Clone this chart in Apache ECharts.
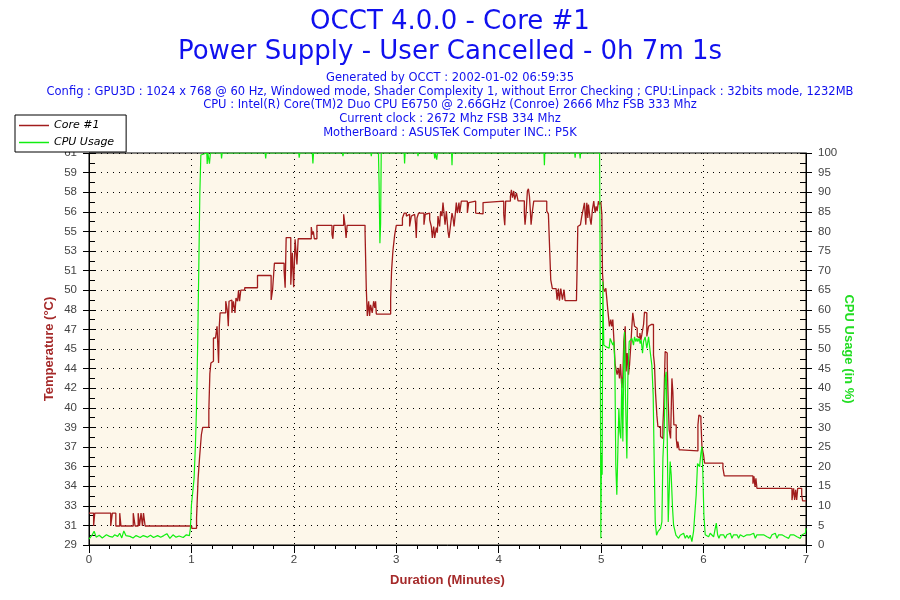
<!DOCTYPE html>
<html>
<head>
<meta charset="utf-8">
<script src="https://cdn.jsdelivr.net/npm/echarts@6/dist/echarts.min.js"></script>
<style>html,body{margin:0;padding:0;background:#fff;}#c{width:900px;height:600px;}</style>
</head>
<body>
<div id="c"></div>
<script>
var titleLines = ['OCCT 4.0.0 - Core #1', 'Power Supply - User Cancelled - 0h 7m 1s'];
var infoLines = [
  'Generated by OCCT : 2002-01-02 06:59:35',
  'Config : GPU3D : 1024 x 768 @ 60 Hz, Windowed mode, Shader Complexity 1, without Error Checking ; CPU:Linpack : 32bits mode, 1232MB',
  'CPU : Intel(R) Core(TM)2 Duo CPU E6750 @ 2.66GHz (Conroe) 2666 Mhz FSB 333 Mhz',
  'Current clock : 2672 Mhz FSB 334 Mhz',
  'MotherBoard : ASUSTeK Computer INC.: P5K'
];
var seriesNames = ['Core #1', 'CPU Usage'];
var xTickLabels = ['0','1','2','3','4','5','6','7'];
var tempTickLabels = ['29','31','33','34','36','37','39','40','42','44','45','47','48','50','51','53','55','56','58','59','61'];
var cpuTickLabels = ['0','5','10','15','20','25','30','35','40','45','50','55','60','65','70','75','80','85','90','95','100'];

var tempTime = [0,0.045,0.056,0.212,0.228,0.262,0.30,0.312,0.432,0.45,0.48,0.493,0.508,0.522,0.532,0.548,
1.003,1.05,1.065,1.08,1.097,1.11,1.17,1.18,1.19,1.205,1.215,1.235,1.25,1.265,1.272,1.28,1.335,1.352,1.36,1.367,1.385,1.395,1.41,1.425,1.435,1.45,1.46,1.47,1.482,1.52,1.645,1.778,1.792,1.81,1.905,1.915,1.925,1.97,1.985,1.998,2.012,2.03,2.042,
2.17,2.18,2.19,2.2,2.225,2.372,2.381,2.39,2.486,2.5,2.51,2.52,2.695,2.707,2.717,2.73,2.739,2.749,2.765,2.779,2.79,2.798,2.805,2.945,2.954,2.967,2.984,3.0,
3.06,3.078,3.098,3.114,3.13,3.147,3.163,3.179,3.189,3.195,3.202,3.218,3.27,3.283,3.293,3.326,3.342,3.352,3.365,3.375,3.391,3.401,3.407,3.423,3.433,3.446,3.456,3.466,3.476,3.489,3.505,3.515,3.528,3.544,3.554,3.564,3.577,3.586,3.596,3.612,3.619,3.635,3.694,3.707,3.717,3.775,3.782,3.847,3.857,
4.049,4.059,4.068,4.114,4.124,4.134,4.147,4.156,4.173,4.189,4.25,4.257,4.267,4.28,4.29,4.3,4.309,4.316,4.329,4.342,4.469,4.485,4.498,4.508,4.524,4.56,4.57,4.583,4.593,4.606,4.622,4.638,4.648,4.759,4.765,4.772,4.785,4.798,4.811,4.827,4.837,4.85,4.86,4.87,4.876,4.893,4.902,4.915,4.928,4.941,4.951,4.961,4.974,4.984,4.997,
5.007,5.013,5.023,5.033,5.046,5.055,5.065,5.081,5.094,5.104,5.114,5.127,5.137,5.147,5.156,5.169,5.179,5.189,5.202,5.212,5.221,5.235,5.244,5.254,5.267,5.277,5.29,5.3,5.309,5.319,5.326,5.339,5.352,5.365,5.378,5.388,5.397,5.414,5.423,5.436,5.446,5.463,5.469,5.489,5.502,5.511,5.521,5.531,5.544,5.554,5.58,5.593,5.603,5.612,5.625,5.635,5.645,5.655,5.664,5.678,5.691,5.7,5.71,5.733,5.743,5.749,5.762,5.782,5.945,5.954,5.964,5.974,5.984,6.0,6.01,6.189,6.202,
6.482,6.492,6.502,6.511,6.521,6.863,6.879,6.889,6.899,6.909,6.919,6.958,6.967,7.0];
var tempValue = [31.6,30.55,31.6,30.55,31.6,30.55,31.6,30.55,31.6,30.55,31.6,30.55,31.6,30.55,31.6,30.55,
30.36,31.2,34.4,36.2,38.0,38.6,40.0,43.0,43.85,44.0,45.9,46.0,46.85,43.85,46.85,47.95,48.9,48.07,46.85,48.9,49.0,47.95,48.9,47.95,49.15,48.9,49.8,48.9,49.8,50.0,51.0,49.0,49.8,52.0,51.35,50.0,54.1,50.25,52.85,50.05,53.95,51.9,54.0,
54.95,54.35,54.6,54.0,55.1,54.35,54.0,55.1,56.0,55.1,54.07,55.1,54.6,50.0,47.7,48.9,47.7,48.6,47.95,48.9,48.35,48.9,47.85,49.15,51.4,53.0,54.3,55.1,
55.7,56.1,55.85,56.0,55.0,55.85,56.0,56.1,55.15,54.07,55.7,56.1,55.15,56.0,56.1,55.55,55.0,54.07,55.0,54.07,54.9,54.5,55.85,55.0,56.25,55.85,56.95,56.1,55.15,56.25,54.6,54.07,55.0,56.1,55.7,55.0,56.1,56.95,56.1,56.95,56.1,57.07,56.1,56.95,57.07,56.1,56.03,56.95,57.07,
56.0,55.1,57.07,57.45,58.0,57.35,57.9,57.2,57.75,57.1,56.1,55.15,56.1,57.9,58.07,57.47,56.25,55.15,56.25,57.07,56.25,56.03,53.0,50.65,49.93,49.98,49.03,49.93,48.95,49.93,49.03,49.84,48.95,48.9,51.5,55.0,55.15,55.08,55.84,56.5,56.93,55.15,56.93,55.7,56.8,55.57,55.15,56.4,57.07,56.1,56.65,56.25,57.07,56.8,57.0,
56.0,51.2,49.95,49.7,49.95,50.04,48.2,46.85,47.4,46.85,47.4,45.35,43.7,43.6,42.9,43.45,42.6,43.77,41.8,42.75,45.6,46.85,43.17,44.67,42.9,43.7,45.35,46.85,47.95,48.07,46.85,46.7,46.03,45.9,46.3,45.75,46.15,47.0,48.0,47.95,46.03,46.85,47.0,47.04,47.0,44.5,43.7,41.4,39.6,38.67,37.85,37.7,38.8,40.45,44.8,44.67,43.85,40.7,38.4,37.7,42.6,41.5,38.8,37.7,36.9,37.45,36.77,36.68,38.8,39.6,39.5,39.1,37.05,36.35,35.68,35.27,34.64,
34.0,34.6,33.75,34.45,33.63,32.67,33.63,32.67,33.5,32.67,33.63,33.1,32.6,32.6];

var cpuTime = [0,0.03,0.05,0.07,0.1,0.13,0.17,0.2,0.23,0.25,0.28,0.3,0.32,0.34,0.36,0.4,0.43,0.46,0.5,0.53,0.57,0.6,0.63,0.67,0.7,0.73,0.76,0.79,0.82,0.85,0.88,0.92,0.95,0.98,
0.99,1.0,1.013,1.026,1.039,1.049,1.062,1.072,1.082,1.092,1.098,
1.15,1.154,1.16,1.17,1.176,1.185,1.29,1.294,1.3,1.72,1.725,1.73,2.048,2.052,2.058,2.18,2.186,2.192,2.475,2.479,2.485,2.752,2.756,2.76,2.826,2.832,2.84,2.847,2.853,
3.077,3.081,3.086,3.208,3.212,3.216,3.37,3.375,3.38,3.395,3.402,3.54,3.544,3.548,4.442,4.446,4.45,4.742,4.746,4.75,4.79,4.795,4.8,
4.985,4.99,4.997,5.003,5.01,5.016,5.026,5.046,5.065,5.078,5.088,5.104,5.114,5.124,5.134,5.143,5.153,5.16,5.173,5.182,5.192,5.202,5.212,5.221,5.228,5.238,5.251,5.261,5.274,5.287,5.3,5.316,5.326,5.339,5.349,5.358,5.371,5.381,5.391,5.404,5.414,5.43,5.446,5.463,5.479,5.495,5.508,5.518,5.528,5.541,5.554,5.567,5.58,5.593,5.603,5.616,5.625,5.635,5.645,5.655,5.664,5.674,5.684,5.697,5.707,5.717,5.73,5.743,5.756,5.772,5.788,5.805,5.821,5.837,5.853,5.87,5.886,5.902,5.919,5.928,5.941,5.951,5.961,5.974,5.984,5.993,6.003,
6.016,6.033,6.049,6.065,6.081,6.098,6.114,6.124,6.137,6.15,6.163,6.179,6.195,6.212,6.228,6.244,6.261,6.277,6.293,6.309,6.326,6.342,6.358,6.375,6.391,6.407,6.423,6.44,6.456,6.472,6.489,6.505,6.521,6.537,6.554,6.57,6.586,6.603,6.619,6.635,6.651,6.668,6.684,6.7,6.717,6.733,6.749,6.765,6.782,6.798,6.814,6.831,6.847,6.863,6.879,6.896,6.912,6.928,6.945,6.961,6.977,6.993,7.0];
var cpuValue = [1.5,2.5,3.5,2.0,2.5,1.8,2.6,2.2,2.0,2.6,2.2,3.0,1.8,3.6,2.4,2.2,1.8,2.4,1.9,2.4,2.0,2.5,1.9,2.4,2.0,2.4,2.9,1.7,2.6,2.0,2.3,1.9,2.6,2.4,
4.25,10.2,13.6,17.0,25.5,34.4,52.7,71.0,89.7,99.5,100,
100,97.2,100,100,97.3,100,100,98.6,100,100,98.6,100,100,98.8,100,100,97.3,100,100,99.2,100,100,99.2,100,100,92.3,77,82,100,
100,97.3,100,100,99.2,100,100,98.6,100,98.3,100,100,96.9,100,100,96.9,100,100,98.8,100,100,98.6,100,
100,72.7,1.7,23.0,17.9,67.2,51.0,50.6,51.0,50.2,52.7,52.7,51.0,51.9,45.9,20.4,12.8,20.4,34.9,29.0,27.2,42.5,26.4,47.6,54.4,37.4,22.1,42.5,51.9,52.0,52.7,51.0,53.1,51.9,52.7,51.9,52.7,51.4,52.3,48.9,51.9,53.1,50.2,53.1,49.3,45.9,38.3,21.3,5.9,2.5,3.4,3.4,4.25,5.9,22.1,29.8,42.5,44.2,28.1,5.9,5.5,21.3,17.9,9.4,5.1,5.1,2.5,3.0,1.7,2.5,2.1,3.0,1.7,2.5,1.7,2.5,0.85,3.4,3.8,12.8,20.8,21.3,20.0,23.4,25.1,18.3,7.7,
2.6,3.0,2.1,3.0,2.6,2.1,2.6,5.6,2.6,1.7,2.6,2.1,2.6,1.7,2.6,2.1,3.0,1.7,2.6,2.1,2.6,1.7,2.6,3.0,2.1,1.7,2.6,2.1,2.6,2.1,3.0,1.7,2.6,2.1,2.6,3.0,2.6,3.0,2.1,2.6,1.7,2.6,2.1,3.0,1.7,2.6,2.1,2.6,3.0,2.1,2.6,1.7,2.6,2.1,2.6,3.0,2.1,2.6,1.7,2.6,2.1,3.0,4.25];

var tempData = tempTime.map(function(t, i){ return [t, tempValue[i]]; });
var cpuData = cpuTime.map(function(t, i){ return [t, cpuValue[i]]; });

var TEMP_MIN = 29, TEMP_MAX = 61, TEMP_STEP = 1.6;
var labelFont = { color: '#444', fontFamily: 'Liberation Sans', fontSize: 11.5 };
var dotted = { color: '#000', width: 1, type: [1, 5] };

var chart = echarts.init(document.getElementById('c'), null, { renderer: 'canvas' });
chart.setOption({
  backgroundColor: '#ffffff',
  animation: false,
  title: [
    { text: titleLines.join('\n'), left: 'center', top: 2,
      textStyle: { color: '#1010EE', fontFamily: 'DejaVu Sans', fontWeight: 'normal', fontSize: 26, lineHeight: 30 } },
    { text: infoLines.join('\n'), left: 'center', top: 66,
      textStyle: { color: '#1010EE', fontFamily: 'DejaVu Sans', fontWeight: 'normal', fontSize: 11.5, lineHeight: 13.8 } }
  ],
  legend: {
    orient: 'vertical', left: 15, top: 115,
    backgroundColor: '#ffffff', borderColor: '#000', borderWidth: 1,
    padding: [5, 12, 4, 4], itemGap: 6, itemWidth: 30, itemHeight: 1.5,
    icon: 'rect',
    textStyle: { color: '#000', fontFamily: 'DejaVu Sans', fontStyle: 'italic', fontSize: 11 },
    data: seriesNames
  },
  grid: { left: 89, right: 94, top: 153, bottom: 55, show: true, backgroundColor: '#FDF7EA', borderColor: '#000', borderWidth: 1 },
  xAxis: {
    type: 'value', min: 0, max: 7, interval: 1,
    name: 'Duration (Minutes)', nameLocation: 'middle', nameGap: 29,
    nameTextStyle: { color: '#A52A2A', fontFamily: 'Liberation Sans', fontWeight: 'bold', fontSize: 13 },
    axisLine: { show: true, lineStyle: { color: '#000', width: 1 } },
    axisTick: { show: true, length: 8, lineStyle: { color: '#000' } },
    minorTick: { show: true, splitNumber: 5, length: 4, lineStyle: { color: '#000' } },
    axisLabel: Object.assign({ margin: 9, formatter: function(v){ return xTickLabels[Math.round(v)]; } }, labelFont),
    splitLine: { show: true, lineStyle: dotted }
  },
  yAxis: [
    { type: 'value', position: 'left', min: TEMP_MIN, max: TEMP_MAX, interval: TEMP_STEP,
      name: 'Temperature (°C)', nameLocation: 'middle', nameGap: 33, nameRotate: 90, nameMoveOverlap: false,
      nameTextStyle: { color: '#A52A2A', fontFamily: 'Liberation Sans', fontWeight: 'bold', fontSize: 13 },
      axisLine: { show: true, lineStyle: { color: '#000', width: 1 } },
      axisTick: { show: true, length: 6, lineStyle: { color: '#000' } },
      axisLabel: Object.assign({ margin: 12, formatter: function(v){ return tempTickLabels[Math.round((v - TEMP_MIN) / TEMP_STEP)]; } }, labelFont),
      splitLine: { show: true, lineStyle: dotted }
    },
    { type: 'value', position: 'right', min: 0, max: 100, interval: 5,
      name: 'CPU Usage (in %)', nameLocation: 'middle', nameGap: 36, nameRotate: -90, nameMoveOverlap: false,
      nameTextStyle: { color: '#22DD22', fontFamily: 'Liberation Sans', fontWeight: 'bold', fontSize: 13 },
      axisLine: { show: true, lineStyle: { color: '#000', width: 1 } },
      axisTick: { show: true, length: 6, lineStyle: { color: '#000' } },
      axisLabel: Object.assign({ margin: 12, formatter: function(v){ return cpuTickLabels[Math.round(v / 5)]; } }, labelFont),
      splitLine: { show: false }
    },
    { type: 'value', position: 'left', min: TEMP_MIN, max: TEMP_MAX, interval: TEMP_STEP,
      axisLine: { show: false }, axisLabel: { show: false }, splitLine: { show: false },
      axisTick: { show: true, inside: true, length: 6, lineStyle: { color: '#000' } },
      minorTick: { show: true, splitNumber: 2, length: 6, lineStyle: { color: '#000' } }
    },
    { type: 'value', position: 'right', min: 0, max: 100, interval: 5,
      axisLine: { show: false }, axisLabel: { show: false }, splitLine: { show: false },
      axisTick: { show: true, inside: true, length: 6, lineStyle: { color: '#000' } },
      minorTick: { show: true, splitNumber: 2, length: 6, lineStyle: { color: '#000' } }
    }
  ],
  series: [
    { name: seriesNames[0], type: 'line', yAxisIndex: 0, step: 'end', showSymbol: false, symbol: 'none',
      data: tempData, itemStyle: { color: '#A11C1C' }, lineStyle: { color: '#A11C1C', width: 1.3 } },
    { name: seriesNames[1], type: 'line', yAxisIndex: 1, showSymbol: false, symbol: 'none',
      data: cpuData, itemStyle: { color: '#11EE11' }, lineStyle: { color: '#11EE11', width: 1.2 } }
  ]
});
</script>
</body>
</html>
